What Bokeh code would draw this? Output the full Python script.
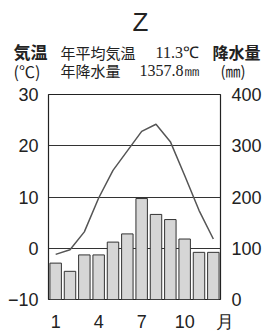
from bokeh.plotting import figure
from bokeh.layouts import column
from bokeh.models import Range1d, LinearAxis, FixedTicker
from bokeh.core.properties import value
from bokeh.embed import file_html
from bokeh.resources import INLINE

months = [1, 2, 3, 4, 5, 6, 7, 8, 9, 10, 11, 12]
temp = [-1.2, -0.3, 3.2, 9.8, 15.2, 19.0, 22.8, 24.2, 20.8, 14.2, 7.4, 1.8]
precip = [71, 55, 87, 87, 112, 128, 197, 166, 156, 118, 92, 92]
temp_ticks = [-10, 0, 10, 20, 30]
precip_ticks = [0, 100, 200, 300, 400]
month_ticks = [1, 4, 7, 10, 12.5]
month_labels = {1: "1", 4: "4", 7: "7", 10: "10", 12.5: "\u2002月"}
title = "Z"
left_title = ["気温", "(℃)"]
right_title = ["降水量", "(㎜)"]
summary = ["年平均気温", "11.3℃", "年降水量", "1357.8㎜"]

W, H = 264, 334
HH = 86                    # header height
FL, FR = 48, 223           # frame left/right
TOPB = 8
FH = 212                   # frame height
MH = H - HH
BOTB = MH - TOPB - FH

# ---------- header ----------
hd = figure(width=W, height=HH, output_backend="svg", toolbar_location=None,
            x_range=Range1d(0, W), y_range=Range1d(HH, 0),
            min_border=0, outline_line_color=None)
hd.frame_align = False
hd.axis.visible = False
hd.grid.visible = False
cjk = "Noto Sans CJK JP"

def txt(x, y, t, size, font=cjk, bold=False, align="left"):
    hd.text(x=[x], y=[y], text=[t], text_font=value(font), text_font_size=size,
            text_align=align, text_baseline="middle", text_color="#222222",
            text_font_style="bold" if bold else "normal")

txt(140, 21, title, "26px", font="Liberation Sans", align="center")
txt(13, 51, left_title[0], "17px", bold=True)
txt(13, 70, left_title[1], "16px")
txt(60, 52, summary[0], "15px")
txt(155, 52, summary[1], "16px", font="Liberation Serif")
txt(60, 70, summary[2], "15px")
txt(139, 70, summary[3], "16px", font="Liberation Serif")
txt(212, 51, right_title[0], "16px", bold=True)
txt(220, 70, right_title[1], "15px")

# ---------- main chart ----------
p = figure(width=W, height=MH, output_backend="svg", toolbar_location=None,
           x_range=Range1d(0.5, 12.5), y_range=Range1d(-10, 30),
           min_border_left=FL, min_border_right=W - FR,
           min_border_top=TOPB, min_border_bottom=BOTB)
p.frame_align = False
p.extra_y_ranges = {"pr": Range1d(0, 400)}

p.vbar(x=months, top=precip, bottom=0, width=0.8, y_range_name="pr",
       fill_color="#d6d6d6", line_color="#333333", line_width=1)
p.line(months, temp, line_color="#555555", line_width=1.5)

label_font = "Liberation Sans"
p.yaxis.ticker = FixedTicker(ticks=temp_ticks)
p.xaxis.ticker = FixedTicker(ticks=month_ticks)
p.xaxis.major_label_overrides = month_labels
for ax in [p.xaxis[0], p.yaxis[0]]:
    ax.major_tick_line_color = None
    ax.minor_tick_line_color = None
    ax.axis_line_color = None
    ax.major_label_text_font = label_font
    ax.major_label_text_font_size = "18px"
    ax.major_label_text_color = "#222222"
    ax.major_label_standoff = 4
p.xaxis.major_label_standoff = 6

ra = LinearAxis(y_range_name="pr", ticker=FixedTicker(ticks=precip_ticks))
ra.major_tick_line_color = None
ra.minor_tick_line_color = None
ra.axis_line_color = None
ra.major_label_text_font = label_font
ra.major_label_text_font_size = "18px"
ra.major_label_text_color = "#222222"
ra.major_label_standoff = 5
p.add_layout(ra, "right")

p.xgrid.grid_line_color = None
p.ygrid.grid_line_color = "#333333"
p.ygrid.grid_line_width = 1.2
p.outline_line_color = "#222222"
p.outline_line_width = 1.2

lay = column(hd, p, spacing=0)
open("out.html", "w").write(file_html(lay, INLINE))
